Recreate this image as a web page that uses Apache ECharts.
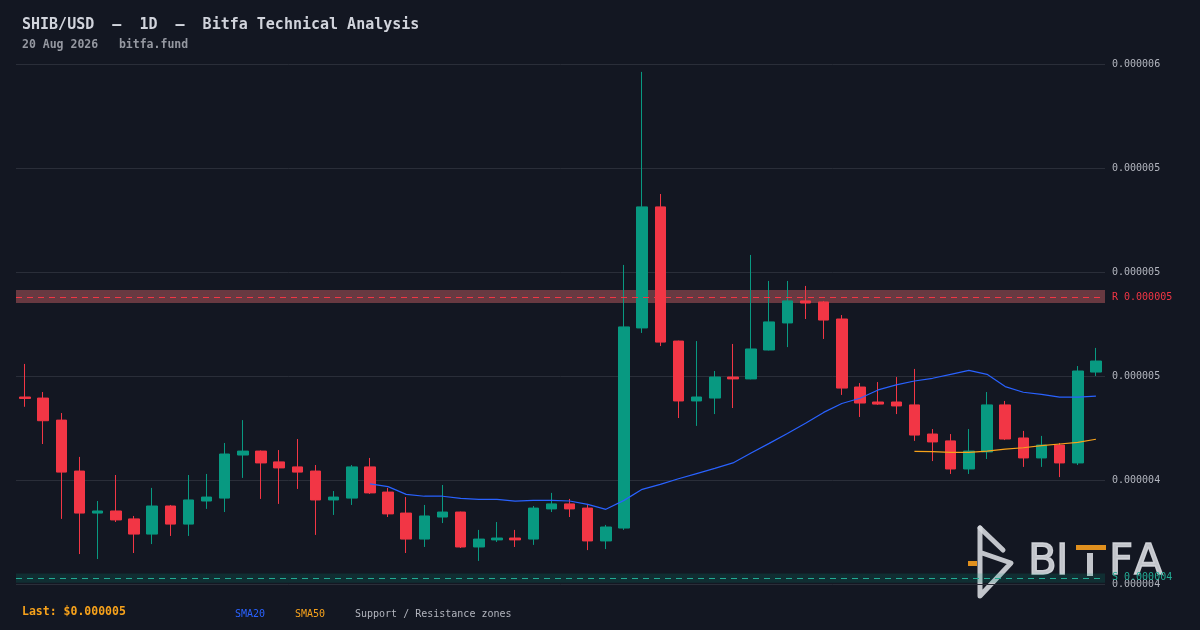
<!DOCTYPE html>
<html><head><meta charset="utf-8">
<script src="https://cdn.jsdelivr.net/npm/echarts@6/dist/echarts.min.js"></script>
<style>html,body{margin:0;padding:0;background:#131722;}#c{width:1200px;height:630px;}</style>
</head><body><div id="c"></div>
<script>
// Prices are in millionths of USD (1 = $0.000001)
const categories = [
 'Jun 22','Jun 23','Jun 24','Jun 25','Jun 26','Jun 27','Jun 28','Jun 29','Jun 30',
 'Jul 1','Jul 2','Jul 3','Jul 4','Jul 5','Jul 6','Jul 7','Jul 8','Jul 9','Jul 10',
 'Jul 11','Jul 12','Jul 13','Jul 14','Jul 15','Jul 16','Jul 17','Jul 18','Jul 19','Jul 20',
 'Jul 21','Jul 22','Jul 23','Jul 24','Jul 25','Jul 26','Jul 27','Jul 28','Jul 29','Jul 30','Jul 31',
 'Aug 1','Aug 2','Aug 3','Aug 4','Aug 5','Aug 6','Aug 7','Aug 8','Aug 9','Aug 10',
 'Aug 11','Aug 12','Aug 13','Aug 14','Aug 15','Aug 16','Aug 17','Aug 18','Aug 19','Aug 20'
];
const openP  = [4.399,4.394,4.288,4.043,3.841,3.851,3.813,3.740,3.875,3.788,3.899,3.913,4.120,4.139,4.087,4.063,4.043,3.904,3.913,4.063,
                3.942,3.841,3.716,3.822,3.846,3.678,3.712,3.721,3.716,3.861,3.885,3.865,3.707,3.769,4.731,5.313,4.668,4.380,4.394,4.495,
                4.486,4.625,4.755,4.861,4.856,4.774,4.447,4.375,4.375,4.361,4.221,4.188,4.053,4.135,4.361,4.202,4.106,4.168,4.082,4.519];
const highP  = [4.558,4.423,4.322,4.111,3.899,4.024,3.827,3.962,3.880,4.024,4.029,4.178,4.288,4.142,4.144,4.197,4.072,3.947,4.072,4.106,
                3.962,3.918,3.880,3.976,3.848,3.760,3.798,3.760,3.875,3.938,3.909,3.885,3.784,5.034,5.962,5.375,4.670,4.668,4.524,4.654,
                5.082,4.957,4.957,4.933,4.861,4.793,4.466,4.471,4.495,4.534,4.245,4.221,4.245,4.423,4.380,4.236,4.212,4.178,4.548,4.635];
const lowP   = [4.352,4.173,3.813,3.644,3.620,3.798,3.649,3.692,3.731,3.731,3.861,3.846,4.010,3.909,3.885,3.957,3.736,3.832,3.880,3.933,
                3.822,3.649,3.678,3.793,3.673,3.611,3.702,3.678,3.688,3.846,3.822,3.663,3.668,3.760,4.707,4.644,4.298,4.260,4.317,4.346,
                4.484,4.623,4.639,4.774,4.678,4.409,4.303,4.361,4.317,4.188,4.091,4.029,4.029,4.101,4.192,4.063,4.063,4.014,4.072,4.500];
const closeP = [4.392,4.285,4.038,3.841,3.851,3.808,3.740,3.875,3.788,3.904,3.918,4.125,4.139,4.082,4.058,4.038,3.904,3.918,4.063,3.938,
                3.837,3.716,3.827,3.846,3.678,3.716,3.721,3.712,3.865,3.885,3.861,3.707,3.774,4.736,5.313,4.663,4.380,4.399,4.495,4.486,
                4.630,4.760,4.861,4.851,4.769,4.442,4.370,4.365,4.356,4.216,4.183,4.053,4.139,4.361,4.197,4.106,4.168,4.082,4.524,4.572];
const sma20 = ['-','-','-','-','-','-','-','-','-','-','-','-','-','-','-','-','-','-','-',
  3.981,3.968,3.931,3.922,3.922,3.912,3.907,3.907,3.898,3.902,3.902,3.899,3.883,3.859,3.902,3.955,3.979,4.006,4.031,4.056,4.082,
  4.130,4.176,4.224,4.273,4.325,4.368,4.393,4.433,4.457,4.476,4.489,4.508,4.527,4.508,4.449,4.422,4.412,4.398,4.398,4.403];
const sma50 = ['-','-','-','-','-','-','-','-','-','-','-','-','-','-','-','-','-','-','-','-',
  '-','-','-','-','-','-','-','-','-','-','-','-','-','-','-','-','-','-','-','-',
  '-','-','-','-','-','-','-','-','-',
  4.138,4.136,4.133,4.133,4.139,4.148,4.155,4.165,4.173,4.181,4.196];
const resistanceZone = [4.851, 4.913];
const resistanceLevel = 4.883;
const supportZone = [3.506, 3.550];
const supportLevel = 3.527;
const yTickLabels = ['0.000004','0.000004','0.000005','0.000005','0.000005','0.000006'];
const Y_MIN = 3.5, Y_MAX = 6.0, Y_STEP = 0.5;

const ohlc = categories.map((c, i) => [openP[i], closeP[i], lowP[i], highP[i]]);
const MONO = '"DejaVu Sans Mono", monospace';
const UP = '#089981', DOWN = '#f23645';
const LOGO = 'rgba(214,216,222,0.9)';
const LOGO_FONT = '42px "DejaVu Sans"';
const letter = (ch, x) => ({type: 'text', z: 0, x: x, y: 542, style: {text: ch, fill: LOGO, stroke: LOGO, lineWidth: 1.3, font: LOGO_FONT}});

const chart = echarts.init(document.getElementById('c'), null, {renderer: 'canvas'});
chart.setOption({
  backgroundColor: '#131722',
  animation: false,
  grid: {left: 16, right: 95, top: 64, bottom: 46},
  xAxis: {
    type: 'category', data: categories, boundaryGap: true,
    axisLine: {show: false}, axisTick: {show: false}, axisLabel: {show: false}, splitLine: {show: false}
  },
  yAxis: {
    type: 'value', position: 'right', min: Y_MIN, max: Y_MAX, interval: Y_STEP, scale: true,
    axisLine: {show: false}, axisTick: {show: false},
    splitLine: {lineStyle: {color: '#2a2e39', width: 1}},
    axisLabel: {
      color: '#b2b5be', fontFamily: MONO, fontSize: 10, margin: 7, align: 'left',
      formatter: v => yTickLabels[Math.round((v - Y_MIN) / Y_STEP)]
    }
  },
  series: [
    {
      type: 'candlestick', name: 'SHIB/USD', data: ohlc, barWidth: 11,
      itemStyle: {color: UP, color0: DOWN, borderColor: UP, borderColor0: DOWN, borderWidth: 1},
      markArea: {
        silent: true,
        data: [
          [{yAxis: resistanceZone[0], itemStyle: {color: '#683941'}}, {yAxis: resistanceZone[1]}],
          [{yAxis: supportZone[0], itemStyle: {color: 'rgba(8,153,129,0.18)'}}, {yAxis: supportZone[1]}]
        ]
      },
      markLine: {
        silent: true, symbol: 'none',
        data: [
          {yAxis: resistanceLevel, lineStyle: {opacity: 0}, label: {show: true, position: 'end', distance: 7, color: '#22ab94', fontFamily: MONO, fontSize: 10, formatter: 'S 0.000005'}},
          {yAxis: resistanceLevel, lineStyle: {color: DOWN, type: [6, 5], width: 1}, label: {show: true, position: 'end', distance: 7, color: DOWN, fontFamily: MONO, fontSize: 10, formatter: 'R 0.000005'}},
          {yAxis: supportLevel, lineStyle: {color: '#22ab94', type: [6, 5], width: 1}, label: {show: true, position: 'end', distance: 7, color: '#22ab94', fontFamily: MONO, fontSize: 10, formatter: 'S 0.000004'}}
        ]
      }
    },
    {type: 'line', name: 'SMA20', data: sma20, showSymbol: false, lineStyle: {color: '#2962ff', width: 1.2}, itemStyle: {color: '#2962ff'}},
    {type: 'line', name: 'SMA50', data: sma50, showSymbol: false, lineStyle: {color: '#f7a21b', width: 1.2}, itemStyle: {color: '#f7a21b'}}
  ],
  graphic: [
    {type: 'text', left: 22, top: 18, style: {text: 'SHIB/USD  –  1D  –  Bitfa Technical Analysis', fill: '#d1d4dc', font: 'bold 15px ' + MONO}},
    {type: 'text', left: 22, top: 39, style: {text: '20 Aug 2026   bitfa.fund', fill: '#9598a1', font: 'bold 11.5px ' + MONO}},
    {type: 'text', left: 22, top: 606, style: {text: 'Last: $0.000005', fill: '#f7a21b', font: 'bold 11.5px ' + MONO}},
    {type: 'text', left: 235, top: 609, style: {text: 'SMA20', fill: '#2962ff', font: '10px ' + MONO}},
    {type: 'text', left: 295, top: 609, style: {text: 'SMA50', fill: '#f7a21b', font: '10px ' + MONO}},
    {type: 'text', left: 355, top: 609, style: {text: 'Support / Resistance zones', fill: '#b2b5be', font: '10px ' + MONO}},
    // watermark logo (drawn beneath the chart marks)
    {type: 'group', silent: true, z: 0, zlevel: 0, children: [
      {type: 'polyline', z: 0, shape: {points: [[980,528],[1003,550]]}, style: {stroke: LOGO, lineWidth: 5, lineCap: 'round', fill: null}},
      {type: 'polyline', z: 0, shape: {points: [[980,528],[980,596],[1011,563],[982,553]]}, style: {stroke: LOGO, lineWidth: 5, lineCap: 'round', lineJoin: 'round', fill: null}},
      {type: 'rect', z: 0, shape: {x: 968, y: 561, width: 9, height: 5}, style: {fill: '#e0901e'}},
      letter('B', 1028),
      letter('I', 1056),
      {type: 'rect', z: 0, shape: {x: 1076, y: 545, width: 30, height: 5}, style: {fill: '#e0901e'}},
      {type: 'rect', z: 0, shape: {x: 1087, y: 553, width: 6, height: 23}, style: {fill: LOGO}},
      letter('F', 1109),
      letter('A', 1134)
    ]}
  ]
});
</script></body></html>
